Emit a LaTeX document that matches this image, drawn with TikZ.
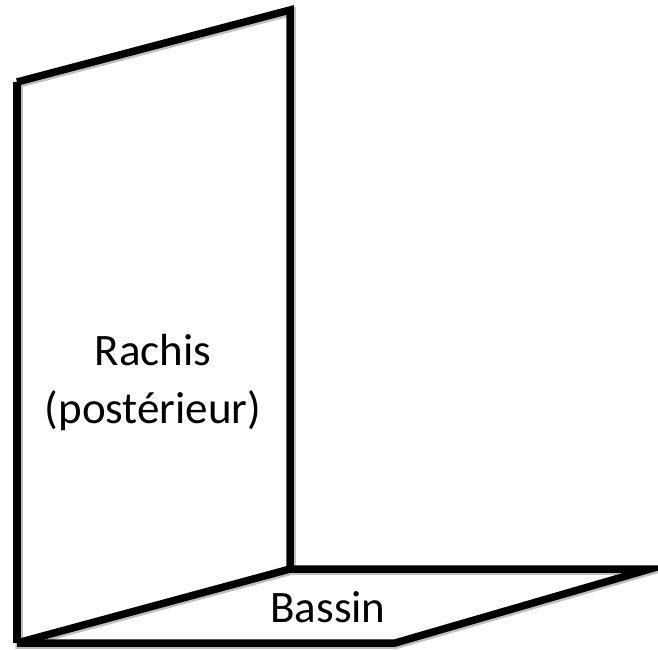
\documentclass[tikz,border=0pt]{standalone}
\usepackage{fontspec}
\setmainfont{Carlito}
\begin{document}
\begin{tikzpicture}[x=1pt,y=-1pt,
  edge/.style={line width=7.5pt,black},
  shade/.style={line width=7.5pt,black!25},
  lbl/.style={font=\fontsize{45}{58}\selectfont,inner sep=0pt,anchor=base}]
\useasboundingbox (0,0) rectangle (658,649);
% corners
\coordinate (a) at (17,82);
\coordinate (b) at (290,10);
\coordinate (c) at (290,569);
\coordinate (d) at (17,643);
\coordinate (e) at (650,569);
\coordinate (f) at (395,643);
% shadows
\begin{scope}[shift={(2,2)}]
\draw[shade] (17,82) -- (290,10) -- (290,569) -- (650,569) -- (395,643) -- (17,643) -- cycle;
\draw[shade] (17,643) -- (290,569);
\end{scope}
% panel (rachis)
\draw[edge,line join=miter] (a) -- (b) -- (c);
\draw[edge] (a) -- (d);
\draw[edge] (d) -- (c);
% bassin
\draw[edge,line join=miter] (c) -- (e) -- (f) -- (d);
\node[lbl] (rachis) at (153,365) {Rachis};
\node[lbl] (post) at (153,423) {(postérieur)};
\node[lbl] (bassin) at (328,622) {Bassin};
\end{tikzpicture}
\end{document}
